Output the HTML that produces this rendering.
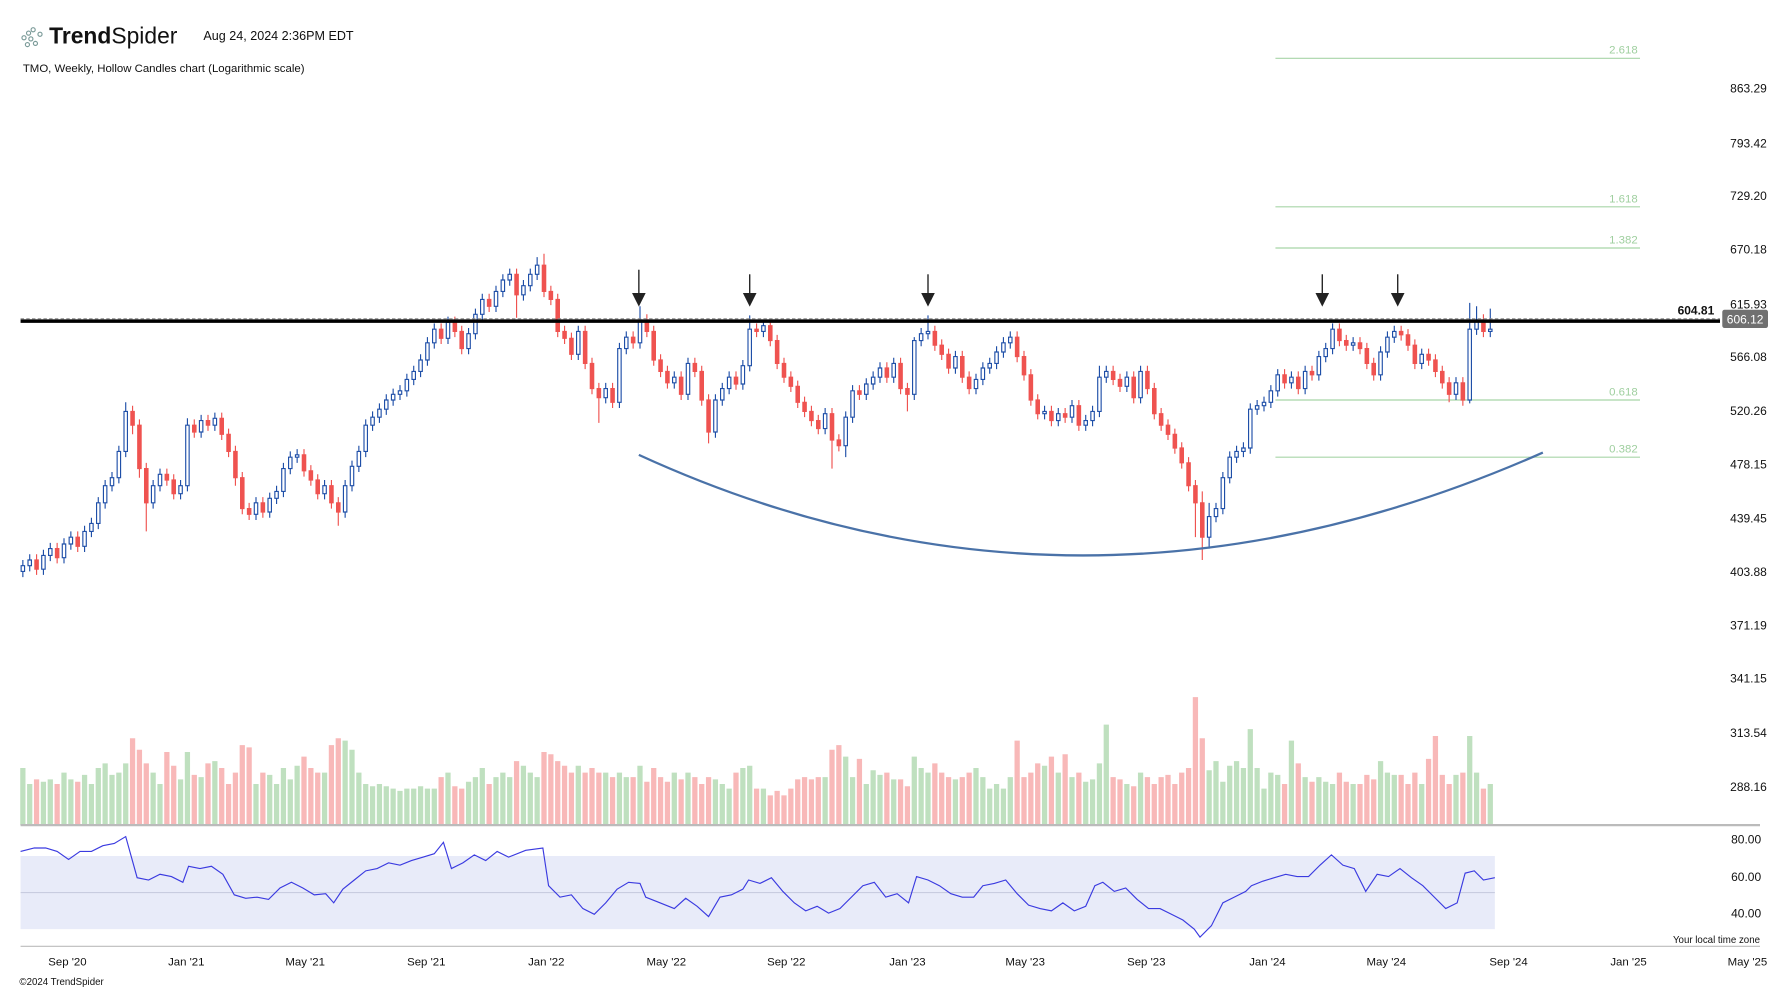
<!DOCTYPE html>
<html><head><meta charset="utf-8"><style>
html,body{margin:0;padding:0;background:#fff;}
svg{display:block;font-family:"Liberation Sans",sans-serif;}
</style></head><body>
<svg width="1792" height="992" viewBox="0 0 1568 868" preserveAspectRatio="none" xmlns="http://www.w3.org/2000/svg">
<rect width="1570" height="870" fill="#fff"/>
<g fill="none" stroke="#7a9a98" stroke-width="1">
<circle cx="21" cy="33" r="1.8"/><circle cx="25" cy="29" r="1.8"/><circle cx="29" cy="26" r="1.8"/><circle cx="27" cy="34" r="1.8"/><circle cx="31" cy="38" r="1.8"/><circle cx="35" cy="30" r="1.8"/><circle cx="24" cy="39" r="1.8"/>
</g>
<text x="43" y="38" font-size="20" fill="#111"><tspan font-weight="bold">Trend</tspan>Spider</text>
<text x="178" y="35" font-size="11" fill="#111">Aug 24, 2024 2:36PM EDT</text>
<text x="20" y="63" font-size="10" fill="#111">TMO, Weekly, Hollow Candles chart (Logarithmic scale)</text>
<g font-size="10.5" fill="#111" text-anchor="end">
<text x="1546" y="81">863.29</text><text x="1546" y="129">793.42</text><text x="1546" y="175">729.20</text><text x="1546" y="222">670.18</text><text x="1546" y="270">615.93</text><text x="1546" y="316">566.08</text><text x="1546" y="363">520.26</text><text x="1546" y="410">478.15</text><text x="1546" y="457">439.45</text><text x="1546" y="504">403.88</text><text x="1546" y="551">371.19</text><text x="1546" y="597">341.15</text><text x="1546" y="645">313.54</text><text x="1546" y="692">288.16</text>
<text x="1541" y="738">80.00</text><text x="1541" y="771">60.00</text><text x="1541" y="803">40.00</text>
<text x="1540" y="825" font-size="8.5">Your local time zone</text>
</g>
<g stroke="#a8d5a8" stroke-width="1">
<line x1="1116" y1="51" x2="1435" y2="51"/><line x1="1116" y1="181" x2="1435" y2="181"/><line x1="1116" y1="217" x2="1435" y2="217"/><line x1="1116" y1="350" x2="1435" y2="350"/><line x1="1116" y1="400" x2="1435" y2="400"/>
</g>
<g font-size="10" fill="#9fcf9f" text-anchor="end">
<text x="1433" y="47">2.618</text><text x="1433" y="177">1.618</text><text x="1433" y="213">1.382</text><text x="1433" y="346">0.618</text><text x="1433" y="396">0.382</text>
</g>
<rect x="18" y="749" width="1290" height="64" fill="#e8ebf9"/>
<line x1="18" y1="781" x2="1308" y2="781" stroke="#c8cce0" stroke-width="1"/>

<path fill="none" stroke="#bfe0bf" stroke-width="4.6" d="M20 722V672M26 722V686M38 722V684M44 722V682M56 722V676M62 722V682M74 722V678M80 722V686M86 722V672M92 722V668M98 722V678M104 722V676M110 722V668M134 722V676M140 722V686M158 722V682M164 722V658M176 722V680M188 722V666M224 722V686M236 722V678M242 722V686M248 722V672M254 722V682M260 722V670M284 722V676M302 722V648M308 722V656M314 722V676M320 722V686M326 722V688M332 722V686M338 722V688M344 722V690M350 722V692M356 722V690M362 722V690M368 722V688M374 722V690M380 722V690M392 722V676M410 722V684M416 722V680M422 722V672M434 722V680M440 722V676M446 722V680M458 722V670M464 722V676M470 722V680M506 722V670M530 722V676M542 722V676M548 722V680M560 722V670M590 722V676M602 722V676M626 722V682M632 722V686M638 722V690M650 722V672M656 722V670M668 722V690M722 722V680M740 722V662M746 722V680M758 722V686M764 722V674M770 722V678M782 722V682M800 722V662M806 722V672M812 722V676M836 722V682M854 722V672M860 722V680M866 722V690M872 722V686M878 722V690M884 722V680M914 722V670M926 722V676M938 722V680M950 722V684M956 722V682M962 722V668M968 722V634M986 722V686M998 722V676M1058 722V674M1064 722V666M1070 722V684M1076 722V670M1082 722V666M1088 722V672M1094 722V638M1100 722V672M1106 722V690M1112 722V676M1118 722V678M1130 722V648M1142 722V680M1154 722V680M1160 722V684M1166 722V686M1184 722V686M1208 722V666M1214 722V676M1220 722V678M1244 722V686M1274 722V678M1286 722V644M1292 722V676M1304 722V686"/>
<path fill="none" stroke="#f8b8b8" stroke-width="4.6" d="M32 722V682M50 722V686M68 722V684M116 722V646M122 722V656M128 722V668M146 722V658M152 722V670M170 722V678M182 722V668M194 722V672M200 722V686M206 722V676M212 722V652M218 722V654M230 722V676M266 722V662M272 722V672M278 722V676M290 722V652M296 722V646M386 722V680M398 722V688M404 722V690M428 722V686M452 722V666M476 722V658M482 722V660M488 722V666M494 722V670M500 722V676M512 722V676M518 722V672M524 722V676M536 722V680M554 722V680M566 722V684M572 722V672M578 722V680M584 722V684M596 722V682M608 722V680M614 722V686M620 722V680M644 722V676M662 722V690M674 722V696M680 722V692M686 722V696M692 722V690M698 722V682M704 722V680M710 722V682M716 722V680M728 722V656M734 722V652M752 722V664M776 722V676M788 722V682M794 722V688M818 722V668M824 722V676M830 722V680M842 722V680M848 722V676M890 722V648M896 722V680M902 722V676M908 722V668M920 722V662M932 722V660M944 722V676M974 722V680M980 722V682M992 722V688M1004 722V680M1010 722V686M1016 722V680M1022 722V678M1028 722V686M1034 722V676M1040 722V672M1046 722V610M1052 722V646M1124 722V686M1136 722V668M1148 722V684M1172 722V676M1178 722V684M1190 722V686M1196 722V678M1202 722V682M1226 722V678M1232 722V686M1238 722V676M1250 722V664M1256 722V644M1262 722V678M1268 722V686M1280 722V676M1298 722V690"/>

<path fill="none" stroke="#1f4fa8" stroke-width="1" d="M20 490V505M26 485V500M38 481V503M44 475V491M56 471V493M62 465V481M74 460V483M80 453V470M86 435V463M92 420V445M98 413V430M104 390V423M110 352V400M134 420V445M140 410V430M158 420V437M164 366V430M176 363V383M188 361V377M224 435V455M236 431V453M242 425V441M248 405V435M254 395V415M260 393V405M284 420V437M302 420V453M308 403V430M314 390V413M320 367V400M326 360V377M332 353V370M338 345V363M344 340V355M350 337V350M356 327V347M362 320V337M368 310V330M374 295V320M380 283V305M392 277V301M410 287V310M416 270V297M422 257V280M434 250V273M440 240V260M446 235V250M458 245V263M464 235V255M470 225V245M506 285V315M530 335V353M542 300V357M548 290V310M560 268V305M590 325V340M602 313V350M626 345V383M632 335V355M638 325V345M650 315V341M656 276V325M668 280V295M722 357V380M740 360V400M746 337V370M758 331V350M764 325V341M770 317V335M782 313V335M800 295V350M806 287V303M812 276V297M836 307V327M854 327V345M860 317V337M866 313V327M872 303V323M878 295V313M884 290V305M914 355V367M926 357V373M938 350V370M950 363V377M956 355V373M962 320V365M968 320V335M986 325V343M998 320V353M1058 440V480M1064 440V457M1070 413V450M1076 395V423M1082 390V405M1088 387V400M1094 353V397M1100 350V363M1106 347V360M1112 337V357M1118 323V347M1130 325V340M1142 320V345M1154 307V333M1160 300V317M1166 283V310M1184 295V307M1208 303V333M1214 290V313M1220 285V300M1244 305V323M1274 330V350M1286 265V353M1292 268V293M1304 270V295"/>
<path fill="#fff" stroke="#1f4fa8" stroke-width="1" d="M18.5 495h3V500h-3zM24.5 490h3V495h-3zM36.5 486h3V498h-3zM42.5 480h3V486h-3zM54.5 476h3V488h-3zM60.5 470h3V476h-3zM72.5 465h3V478h-3zM78.5 458h3V465h-3zM84.5 440h3V458h-3zM90.5 425h3V440h-3zM96.5 418h3V425h-3zM102.5 395h3V418h-3zM108.5 360h3V395h-3zM132.5 425h3V440h-3zM138.5 415h3V425h-3zM156.5 425h3V432h-3zM162.5 372h3V425h-3zM174.5 368h3V378h-3zM186.5 366h3V372h-3zM222.5 440h3V450h-3zM234.5 436h3V448h-3zM240.5 430h3V436h-3zM246.5 410h3V430h-3zM252.5 400h3V410h-3zM258.5 398h3V400h-3zM282.5 425h3V432h-3zM300.5 425h3V448h-3zM306.5 408h3V425h-3zM312.5 395h3V408h-3zM318.5 372h3V395h-3zM324.5 365h3V372h-3zM330.5 358h3V365h-3zM336.5 350h3V358h-3zM342.5 345h3V350h-3zM348.5 342h3V345h-3zM354.5 332h3V342h-3zM360.5 325h3V332h-3zM366.5 315h3V325h-3zM372.5 300h3V315h-3zM378.5 288h3V300h-3zM390.5 282h3V296h-3zM408.5 292h3V305h-3zM414.5 275h3V292h-3zM420.5 262h3V275h-3zM432.5 255h3V268h-3zM438.5 245h3V255h-3zM444.5 240h3V245h-3zM456.5 250h3V258h-3zM462.5 240h3V250h-3zM468.5 232h3V240h-3zM504.5 290h3V310h-3zM528.5 340h3V348h-3zM540.5 305h3V352h-3zM546.5 295h3V305h-3zM558.5 280h3V300h-3zM588.5 330h3V335h-3zM600.5 318h3V345h-3zM624.5 350h3V378h-3zM630.5 340h3V350h-3zM636.5 330h3V340h-3zM648.5 320h3V336h-3zM654.5 288h3V320h-3zM666.5 285h3V290h-3zM720.5 362h3V375h-3zM738.5 365h3V390h-3zM744.5 342h3V365h-3zM756.5 336h3V345h-3zM762.5 330h3V336h-3zM768.5 322h3V330h-3zM780.5 318h3V330h-3zM798.5 298h3V345h-3zM804.5 292h3V298h-3zM810.5 290h3V292h-3zM834.5 312h3V322h-3zM852.5 332h3V340h-3zM858.5 322h3V332h-3zM864.5 318h3V322h-3zM870.5 308h3V318h-3zM876.5 300h3V308h-3zM882.5 295h3V300h-3zM912.5 360h3V362h-3zM924.5 362h3V368h-3zM936.5 355h3V365h-3zM948.5 368h3V372h-3zM954.5 360h3V368h-3zM960.5 330h3V360h-3zM966.5 325h3V330h-3zM984.5 330h3V338h-3zM996.5 325h3V348h-3zM1056.5 452h3V470h-3zM1062.5 445h3V452h-3zM1068.5 418h3V445h-3zM1074.5 400h3V418h-3zM1080.5 395h3V400h-3zM1086.5 392h3V395h-3zM1092.5 358h3V392h-3zM1098.5 355h3V358h-3zM1104.5 352h3V355h-3zM1110.5 342h3V352h-3zM1116.5 328h3V342h-3zM1128.5 330h3V335h-3zM1140.5 325h3V340h-3zM1152.5 312h3V328h-3zM1158.5 305h3V312h-3zM1164.5 288h3V305h-3zM1182.5 300h3V302h-3zM1206.5 308h3V328h-3zM1212.5 295h3V308h-3zM1218.5 290h3V295h-3zM1242.5 310h3V318h-3zM1272.5 335h3V345h-3zM1284.5 288h3V350h-3zM1290.5 280h3V288h-3zM1302.5 288h3V290h-3z"/>

<path fill="none" stroke="#ef5350" stroke-width="1" d="M32 485V503M50 475V493M68 465V483M116 355V380M122 367V418M128 405V465M146 410V425M152 415V437M170 367V383M182 363V377M194 361V385M200 375V400M206 390V425M212 413V450M218 440V455M230 435V453M266 393V417M272 407V425M278 415V437M290 420V445M296 435V460M386 283V301M398 277V295M404 285V310M428 257V273M452 235V278M476 222V260M482 250V267M488 257V295M494 285V301M500 291V315M512 285V323M518 313V345M524 335V370M536 335V357M554 290V305M566 275V295M572 285V320M578 310V330M584 320V340M596 325V350M608 313V330M614 320V355M620 345V388M644 325V341M662 283V295M674 280V303M680 293V323M686 313V335M692 325V343M698 333V357M704 347V365M710 355V373M716 363V380M728 357V410M734 380V395M752 337V350M776 317V335M788 313V345M794 335V360M818 285V307M824 297V315M830 305V327M842 307V335M848 325V345M890 290V317M896 307V333M902 323V355M908 345V367M920 355V373M932 357V370M944 350V377M974 320V337M980 327V343M992 325V353M1004 320V345M1010 335V367M1016 357V377M1022 367V385M1028 375V397M1034 387V410M1040 400V430M1046 420V470M1052 430V490M1124 323V340M1136 325V345M1148 320V333M1172 283V303M1178 293V307M1190 295V310M1196 300V323M1202 313V333M1226 285V298M1232 288V307M1238 297V323M1250 305V320M1256 310V330M1262 320V340M1268 330V352M1280 330V355M1298 275V295"/>
<path fill="#ef5350" stroke="#ef5350" stroke-width="1" d="M30.5 490h3V498h-3zM48.5 480h3V488h-3zM66.5 470h3V478h-3zM114.5 360h3V372h-3zM120.5 372h3V410h-3zM126.5 410h3V440h-3zM144.5 415h3V420h-3zM150.5 420h3V432h-3zM168.5 372h3V378h-3zM180.5 368h3V372h-3zM192.5 366h3V380h-3zM198.5 380h3V395h-3zM204.5 395h3V418h-3zM210.5 418h3V445h-3zM216.5 445h3V450h-3zM228.5 440h3V448h-3zM264.5 398h3V412h-3zM270.5 412h3V420h-3zM276.5 420h3V432h-3zM288.5 425h3V440h-3zM294.5 440h3V448h-3zM384.5 288h3V296h-3zM396.5 282h3V290h-3zM402.5 290h3V305h-3zM426.5 262h3V268h-3zM450.5 240h3V258h-3zM474.5 232h3V255h-3zM480.5 255h3V262h-3zM486.5 262h3V290h-3zM492.5 290h3V296h-3zM498.5 296h3V310h-3zM510.5 290h3V318h-3zM516.5 318h3V340h-3zM522.5 340h3V348h-3zM534.5 340h3V352h-3zM552.5 295h3V300h-3zM564.5 280h3V290h-3zM570.5 290h3V315h-3zM576.5 315h3V325h-3zM582.5 325h3V335h-3zM594.5 330h3V345h-3zM606.5 318h3V325h-3zM612.5 325h3V350h-3zM618.5 350h3V378h-3zM642.5 330h3V336h-3zM660.5 288h3V290h-3zM672.5 285h3V298h-3zM678.5 298h3V318h-3zM684.5 318h3V330h-3zM690.5 330h3V338h-3zM696.5 338h3V352h-3zM702.5 352h3V360h-3zM708.5 360h3V368h-3zM714.5 368h3V375h-3zM726.5 362h3V385h-3zM732.5 385h3V390h-3zM750.5 342h3V345h-3zM774.5 322h3V330h-3zM786.5 318h3V340h-3zM792.5 340h3V345h-3zM816.5 290h3V302h-3zM822.5 302h3V310h-3zM828.5 310h3V322h-3zM840.5 312h3V330h-3zM846.5 330h3V340h-3zM888.5 295h3V312h-3zM894.5 312h3V328h-3zM900.5 328h3V350h-3zM906.5 350h3V362h-3zM918.5 360h3V368h-3zM930.5 362h3V365h-3zM942.5 355h3V372h-3zM972.5 325h3V332h-3zM978.5 332h3V338h-3zM990.5 330h3V348h-3zM1002.5 325h3V340h-3zM1008.5 340h3V362h-3zM1014.5 362h3V372h-3zM1020.5 372h3V380h-3zM1026.5 380h3V392h-3zM1032.5 392h3V405h-3zM1038.5 405h3V425h-3zM1044.5 425h3V440h-3zM1050.5 440h3V470h-3zM1122.5 328h3V335h-3zM1134.5 330h3V340h-3zM1146.5 325h3V328h-3zM1170.5 288h3V298h-3zM1176.5 298h3V302h-3zM1188.5 300h3V305h-3zM1194.5 305h3V318h-3zM1200.5 318h3V328h-3zM1224.5 290h3V293h-3zM1230.5 293h3V302h-3zM1236.5 302h3V318h-3zM1248.5 310h3V315h-3zM1254.5 315h3V325h-3zM1260.5 325h3V335h-3zM1266.5 335h3V345h-3zM1278.5 335h3V350h-3zM1296.5 280h3V290h-3z"/>

<path d="M559 398 Q945 575 1350 396" fill="none" stroke="#4a72a8" stroke-width="2"/>
<line x1="18" y1="281" x2="1505" y2="281" stroke="#000" stroke-width="3"/>
<line x1="18" y1="279" x2="1505" y2="279" stroke="#888" stroke-width="1" stroke-dasharray="3,2"/>
<text x="1500" y="275" font-size="10.5" font-weight="bold" text-anchor="end" fill="#111">604.81</text>
<rect x="1507" y="271" width="40" height="16" rx="2" fill="#707070"/>
<text x="1527" y="283" font-size="10.5" text-anchor="middle" fill="#fff">606.12</text>
<g stroke="#222" stroke-width="1.2" fill="#222">
<line x1="559" y1="236" x2="559" y2="258"/><path d="M554 257 L564 257 L559 267Z"/>
<line x1="656" y1="240" x2="656" y2="258"/><path d="M651 257 L661 257 L656 267Z"/>
<line x1="812" y1="240" x2="812" y2="258"/><path d="M807 257 L817 257 L812 267Z"/>
<line x1="1157" y1="240" x2="1157" y2="258"/><path d="M1152 257 L1162 257 L1157 267Z"/>
<line x1="1223" y1="240" x2="1223" y2="258"/><path d="M1218 257 L1228 257 L1223 267Z"/>
</g>
<line x1="18" y1="722" x2="1540" y2="722" stroke="#bbb" stroke-width="2"/>
<line x1="18" y1="828" x2="1540" y2="828" stroke="#bbb" stroke-width="1"/>
<polyline fill="none" stroke="#3a3ae0" stroke-width="1" points="18,745 30,742 40,742 50,745 60,752 70,745 80,745 90,740 100,738 110,732 120,768 130,770 140,765 150,767 160,772 165,758 175,760 185,758 195,765 205,783 215,786 225,785 235,787 245,777 255,772 265,777 275,783 285,782 292,790 300,778 310,770 320,762 330,760 340,755 350,757 360,753 370,750 380,747 388,737 395,760 405,755 415,748 425,753 435,745 445,750 460,744 475,742 480,775 490,785 500,783 510,795 520,800 530,790 540,778 550,772 560,773 565,785 575,789 590,795 600,786 610,793 620,802 630,785 640,783 650,778 655,770 665,773 675,768 685,780 695,790 705,797 715,793 725,799 735,795 745,785 755,775 765,772 775,785 785,782 795,790 802,767 812,770 822,775 832,782 842,785 852,785 860,775 870,773 880,770 890,782 900,792 910,795 920,797 930,790 940,797 950,793 958,775 965,772 975,780 985,777 995,787 1005,795 1015,795 1025,800 1035,805 1045,813 1050,820 1060,810 1070,790 1080,785 1090,780 1095,775 1105,771 1115,768 1125,765 1135,767 1145,767 1155,757 1165,748 1175,757 1185,760 1195,780 1205,765 1215,767 1225,760 1235,768 1245,775 1255,785 1265,795 1275,790 1282,764 1290,762 1298,770 1308,768"/>
<g font-size="10" fill="#111" text-anchor="middle">
<text x="59" y="845">Sep '20</text><text x="163" y="845">Jan '21</text><text x="267" y="845">May '21</text><text x="373" y="845">Sep '21</text><text x="478" y="845">Jan '22</text><text x="583" y="845">May '22</text><text x="688" y="845">Sep '22</text><text x="794" y="845">Jan '23</text><text x="897" y="845">May '23</text><text x="1003" y="845">Sep '23</text><text x="1109" y="845">Jan '24</text><text x="1213" y="845">May '24</text><text x="1320" y="845">Sep '24</text><text x="1425" y="845">Jan '25</text><text x="1529" y="845">May '25</text>
</g>
<text x="17" y="862" font-size="8.5" fill="#111">©2024 TrendSpider</text>
</svg>
</body></html>
